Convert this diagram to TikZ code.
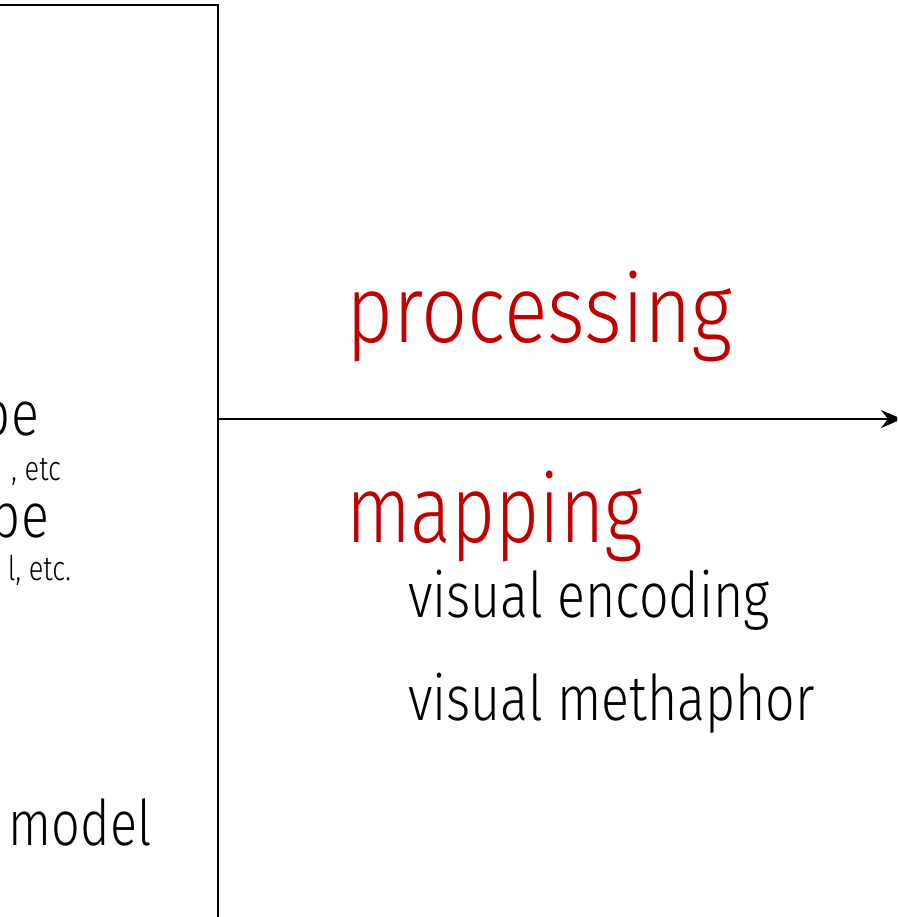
\documentclass[tikz,border=0pt]{standalone}
\usepackage{fontspec}
\setmainfont{Fira Sans Light}[FakeStretch=0.8]
\newfontfamily\bigfont{Fira Sans Light}[FakeStretch=0.855]
\newfontfamily\midfont{Fira Sans Light}[FakeStretch=0.825]
\usetikzlibrary{arrows.meta}
\definecolor{accent}{HTML}{C00000}
\tikzset{
  lbl/.style={inner sep=0pt, outer sep=0pt},
  big/.style={lbl, font=\bigfont\fontsize{95}{100}\selectfont, text=accent},
  bignarrow/.style={lbl, font=\fontsize{95}{100}\selectfont, text=accent},
  mid/.style={lbl, font=\midfont\fontsize{63}{70}\selectfont, text=black},
  midnarrow/.style={lbl, font=\fontsize{63}{70}\selectfont, text=black},
  small/.style={lbl, font=\fontsize{34}{40}\selectfont, text=black},
  frame/.style={line width=2.2pt, draw=black},
  flow/.style={line width=2.2pt, draw=black, -{Stealth[length=21pt,width=18pt,inset=7pt]}}
}
\begin{document}
\begin{tikzpicture}[x=1pt,y=-1pt]
\useasboundingbox (0,0) rectangle (897,917);
\clip (0,0) rectangle (897,917);
% frame
\coordinate (ftl) at (-20,5);
\coordinate (ftr) at (218,5);
\coordinate (fbr) at (218,930);
\draw[frame] (ftl) -- (ftr) -- (fbr);
% arrow
\coordinate (astart) at (218,419);
\coordinate (aend) at (902,419);
\draw[flow] (astart) -- (aend);
% right texts
\node[big, anchor=base west] (proc) at (346,342) {processing};
\node[bignarrow, anchor=base west] (map) at (346,542) {mapping};
\node[mid, anchor=base west] (venc) at (408,617) {visual encoding};
\node[mid, anchor=base west] (vmet) at (408,720) {visual methaphor};
% left texts (cut off at the left edge)
\node[mid, anchor=base east] (pe1) at (39,435) {pe};
\node[small, anchor=base east] (etc1) at (61,480) {, etc};
\node[mid, anchor=base east] (pe2) at (49,537) {pe};
\node[small, anchor=base east] (etc2) at (71,580) {l, etc.};
\node[midnarrow, anchor=base west] (model) at (9,845) {model};
\end{tikzpicture}
\end{document}
